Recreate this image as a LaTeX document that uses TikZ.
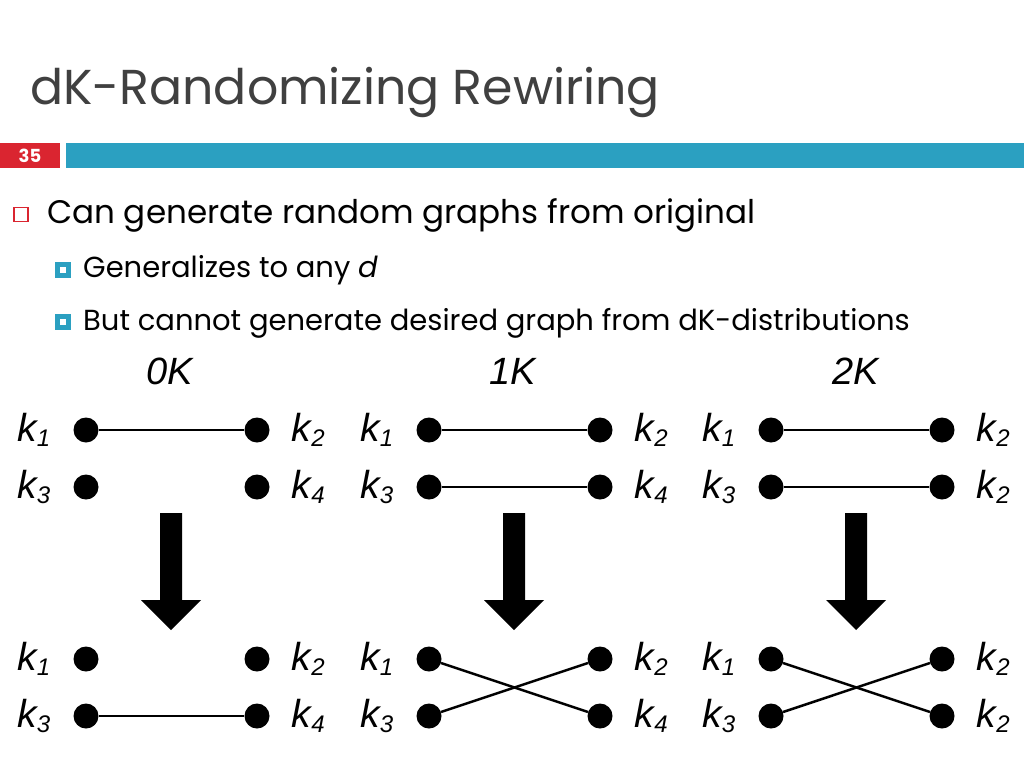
\documentclass[tikz,border=0pt]{standalone}
\usepackage{fontspec}
\setmainfont{Poppins}
\newfontfamily\figfont{Liberation Sans}
\usetikzlibrary{positioning}
\definecolor{slidered}{RGB}{218,37,48}
\definecolor{slideblue}{RGB}{43,160,193}
\definecolor{titlegray}{RGB}{64,64,64}
\tikzset{
  slidetitle/.style = {anchor=base west, inner sep=0pt, text=titlegray,
                       font=\fontsize{49}{56}\selectfont},
  item/.style     = {anchor=base west, inner sep=0pt, font=\fontsize{32.6}{36}\selectfont},
  subitem/.style  = {anchor=base west, inner sep=0pt, font=\fontsize{29}{32}\selectfont},
  redbox/.style   = {draw=slidered, fill=white, line width=1.3pt, minimum size=14pt,
                     inner sep=0pt},
  bluebox/.style  = {draw=slideblue, fill=white, line width=5pt, minimum size=11pt,
                     inner sep=0pt},
  vertex/.style   = {circle, fill=black, inner sep=0pt, minimum size=25pt},
  klabel/.style   = {font=\figfont\itshape\fontsize{39}{42}\selectfont, inner sep=0pt},
  panelhead/.style = {font=\figfont\itshape\fontsize{38}{42}\selectfont, inner sep=0pt},
  link/.style     = {line width=2.5pt},
  thinlink/.style = {line width=2pt},
  bigarrow/.style = {fill=black}
}
\newcommand{\kl}[1]{k\raisebox{-5pt}{\fontsize{24}{26}\selectfont #1}}

\begin{document}
\begin{tikzpicture}[x=1pt, y=-1pt]
  \useasboundingbox (0,0) rectangle (1024,768);

  % title and bar
  \node[slidetitle] (title) at (30,104) {dK-Randomizing Rewiring};
  \fill[slidered] (0,143) rectangle (60,168);
  \fill[slideblue] (66,143) rectangle (1024,168);
  \node[text=white, font=\bfseries\fontsize{18}{20}\selectfont] (num) at (30,156) {35};

  % bullets
  \node[redbox] (b1) at (21,214.5) {};
  \node[item] (t1) at (47,223) {Can generate random graphs from original};
  \node[bluebox] (b2) at (62.5,270) {};
  \node[subitem] (t2) at (83,277) {Generalizes to any \textit{d}};
  \node[bluebox] (b3) at (62.5,322) {};
  \node[subitem] (t3) at (83,330) {But cannot generate desired graph from dK-distributions};

  % 0K
  \begin{scope}
    \node[panelhead] (h0) at (170,371) {0K};
    \node[vertex] (a1) at (86,430) {};  \node[vertex] (a2) at (257,430) {};
    \node[vertex] (a3) at (86,487) {};  \node[vertex] (a4) at (257,487) {};
    \node[klabel, left=23pt of a1] {\kl{1}};  \node[klabel, right=22pt of a2] {\kl{2}};
    \node[klabel, left=23pt of a3] {\kl{3}};  \node[klabel, right=22pt of a4] {\kl{4}};
    \draw[link] (a1) -- (a2);
    \fill[bigarrow] (160,513) -- (182,513) -- (182,600) -- (201,600) -- (171,630)
      -- (141,600) -- (160,600) -- cycle;
    \node[vertex] (c1) at (86,659) {};  \node[vertex] (c2) at (257,659) {};
    \node[vertex] (c3) at (86,716) {};  \node[vertex] (c4) at (257,716) {};
    \node[klabel, left=23pt of c1] {\kl{1}};  \node[klabel, right=22pt of c2] {\kl{2}};
    \node[klabel, left=23pt of c3] {\kl{3}};  \node[klabel, right=22pt of c4] {\kl{4}};
    \draw[link] (c3) -- (c4);
  \end{scope}

  % 1K
  \begin{scope}[xshift=343pt]
    \node[panelhead] (h1) at (170,371) {1K};
    \node[vertex] (d1) at (86,430) {};  \node[vertex] (d2) at (257,430) {};
    \node[vertex] (d3) at (86,487) {};  \node[vertex] (d4) at (257,487) {};
    \node[klabel, left=23pt of d1] {\kl{1}};  \node[klabel, right=22pt of d2] {\kl{2}};
    \node[klabel, left=23pt of d3] {\kl{3}};  \node[klabel, right=22pt of d4] {\kl{4}};
    \draw[link] (d1) -- (d2);
    \draw[thinlink] (d3) -- (d4);
    \fill[bigarrow] (160,513) -- (182,513) -- (182,600) -- (201,600) -- (171,630)
      -- (141,600) -- (160,600) -- cycle;
    \node[vertex] (e1) at (86,659) {};  \node[vertex] (e2) at (257,659) {};
    \node[vertex] (e3) at (86,716) {};  \node[vertex] (e4) at (257,716) {};
    \node[klabel, left=23pt of e1] {\kl{1}};  \node[klabel, right=22pt of e2] {\kl{2}};
    \node[klabel, left=23pt of e3] {\kl{3}};  \node[klabel, right=22pt of e4] {\kl{4}};
    \draw[link] (e1) -- (e4);
    \draw[link] (e3) -- (e2);
  \end{scope}

  % 2K
  \begin{scope}[xshift=685pt]
    \node[panelhead] (h2) at (171,371) {2K};
    \node[vertex] (f1) at (86,430) {};  \node[vertex] (f2) at (257,430) {};
    \node[vertex] (f3) at (86,487) {};  \node[vertex] (f4) at (257,487) {};
    \node[klabel, left=23pt of f1] {\kl{1}};  \node[klabel, right=22pt of f2] {\kl{2}};
    \node[klabel, left=23pt of f3] {\kl{3}};  \node[klabel, right=22pt of f4] {\kl{2}};
    \draw[link] (f1) -- (f2);
    \draw[thinlink] (f3) -- (f4);
    \fill[bigarrow] (160,513) -- (182,513) -- (182,600) -- (201,600) -- (171,630)
      -- (141,600) -- (160,600) -- cycle;
    \node[vertex] (g1) at (86,659) {};  \node[vertex] (g2) at (257,659) {};
    \node[vertex] (g3) at (86,716) {};  \node[vertex] (g4) at (257,716) {};
    \node[klabel, left=23pt of g1] {\kl{1}};  \node[klabel, right=22pt of g2] {\kl{2}};
    \node[klabel, left=23pt of g3] {\kl{3}};  \node[klabel, right=22pt of g4] {\kl{2}};
    \draw[link] (g1) -- (g4);
    \draw[link] (g3) -- (g2);
  \end{scope}
\end{tikzpicture}
\end{document}
